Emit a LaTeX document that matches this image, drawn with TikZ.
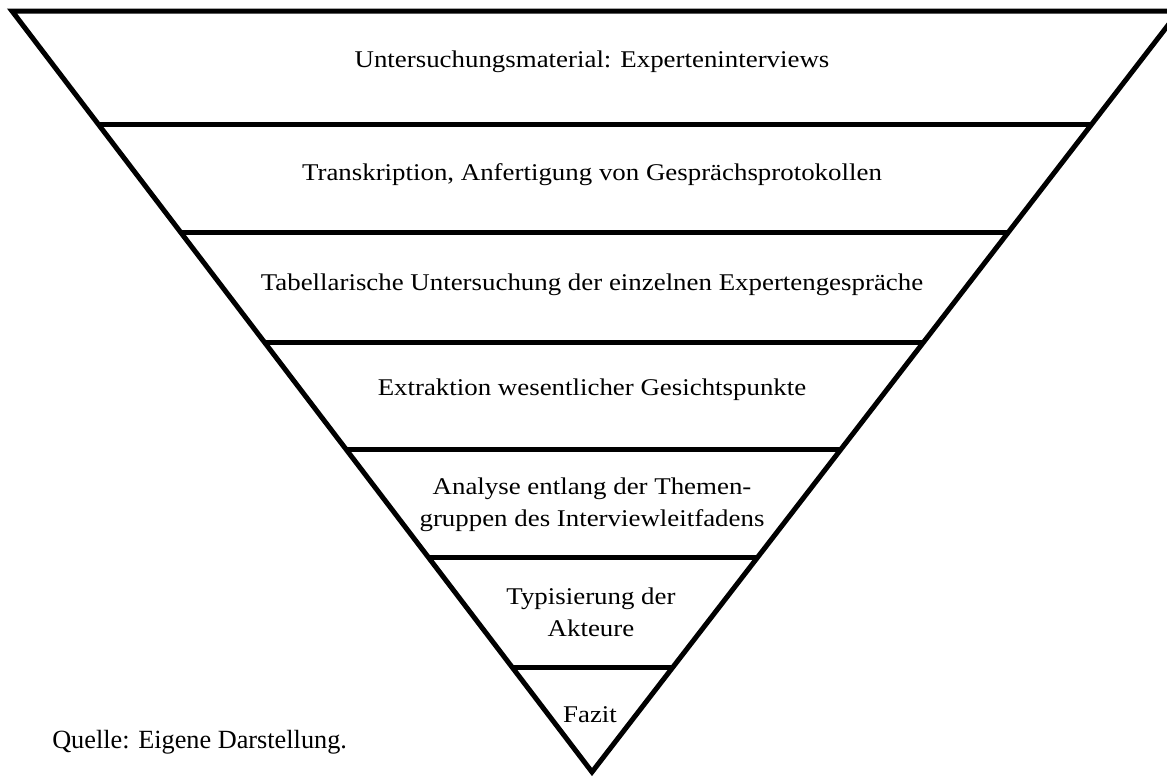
\documentclass[tikz,border=0pt]{standalone}
\usepackage{fontspec}
\setmainfont{Liberation Serif}
\newfontfamily\bandfont[FakeStretch=1.12]{Liberation Serif}
\usetikzlibrary{calc,positioning}

\begin{document}
\begin{tikzpicture}[
  x=0.75pt, y=-0.75pt,
  every node/.style={inner sep=0pt},
  edge/.style={line width=3.75pt, draw=black},
  band/.style={font=\bandfont\fontsize{18pt}{24pt}\selectfont, align=center, anchor=base}
]
  \useasboundingbox (0,0) rectangle (1167,778);

  % Funnel outline
  \coordinate (tl) at (12,11);
  \coordinate (tr) at (1179,11);
  \coordinate (apex) at (592,772);
  \draw[edge] (tl) -- (tr) -- (apex) -- cycle;

  % Band separators
  \foreach \y in {125,232,342,450,557,667} {
    \draw[edge] ($(tl)!{(\y-11)/761}!(apex)$) -- ($(tr)!{(\y-11)/761}!(apex)$);
  }

  % Band labels (base = last line)
  \node[band] (material) at (592,67) {Untersuchungsmaterial: Experteninterviews};
  \node[band] (transkription) at (592,180) {Transkription, Anfertigung von Gesprächsprotokollen};
  \node[band] (tabelle) at (592,290) {Tabellarische Untersuchung der einzelnen Expertengespräche};
  \node[band] (extraktion) at (592,395) {Extraktion wesentlicher Gesichtspunkte};
  \node[band] (analyse) at (592,526) {Analyse entlang der Themen-\\gruppen des Interviewleitfadens};
  \node[band] (typisierung) at (591,636) {Typisierung der\\Akteure};
  \node[band] (fazit) at (590,722) {Fazit};

  % Source note
  \node[font=\fontsize{19.7pt}{24pt}\selectfont, anchor=base west] (quelle) at (52,748)
    {Quelle: Eigene Darstellung.};
\end{tikzpicture}
\end{document}
